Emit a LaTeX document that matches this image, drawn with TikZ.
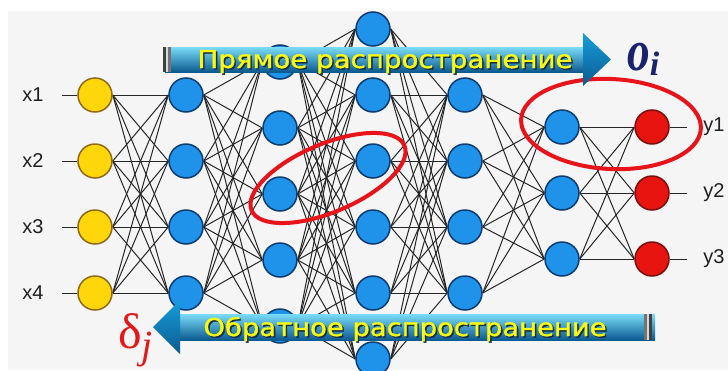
\documentclass[tikz,border=0pt]{standalone}
\usepackage{fontspec}
\setmainfont{Liberation Serif}
\newfontfamily\arrowfont[FakeBold=1.3]{DejaVu Sans}
\newfontfamily\labfont{Liberation Sans}
\usetikzlibrary{shapes.geometric}
\definecolor{bgpanel}{HTML}{F5F5F5}
\definecolor{nblue}{HTML}{1F92EA}
\definecolor{nblueD}{HTML}{0E3C70}
\definecolor{nyel}{HTML}{FFD60A}
\definecolor{nyelD}{HTML}{8C6A18}
\definecolor{nred}{HTML}{E8140F}
\definecolor{nredD}{HTML}{7A1010}
\definecolor{ringred}{HTML}{E8141C}
\definecolor{aTop}{HTML}{7ADCF8}
\definecolor{aMid}{HTML}{169EDB}
\definecolor{aBot}{HTML}{0B5A90}
\definecolor{txtyel}{HTML}{F8F812}
\definecolor{txtshadow}{HTML}{15304A}
\definecolor{navy}{HTML}{1A236E}
\definecolor{dred}{HTML}{E51818}
\pgfdeclarelayer{bglayer}
\pgfdeclarelayer{edgelayer}
\pgfsetlayers{bglayer,edgelayer,main}
\begin{document}
\begin{tikzpicture}[x=1pt,y=-1pt,
  neuron/.style={circle, minimum size=34pt, inner sep=0pt, line width=1.5pt},
  bluen/.style={neuron, fill=nblue, draw=nblueD},
  yeln/.style={neuron, fill=nyel, draw=nyelD},
  redn/.style={neuron, fill=nred, draw=nredD},
  wire/.style={draw=black!85, line width=1pt},
  ring/.style={ellipse, draw=ringred, line width=4pt, inner sep=0pt},
  lab/.style={font=\labfont\fontsize{20}{20}\selectfont, text=black!88, inner sep=0pt},
  arrowtext/.style={anchor=base, inner sep=0pt, text=txtyel},
  shadowtext/.style={anchor=base, inner sep=0pt, text=txtshadow}
]
\useasboundingbox (0,0) rectangle (728,370);
\begin{pgfonlayer}{bglayer}
  \fill[white] (0,0) rectangle (728,370);
  \fill[bgpanel] (8,11) rectangle (728,370);
\end{pgfonlayer}

% input layer
\foreach \k/\yy in {1/95,2/161,3/227,4/293}{
  \node[yeln] (i\k) at (95,\yy) {};
  \node[bluen] (a\k) at (186,\yy) {};
  \node[bluen] (d\k) at (465,\yy) {};
  \coordinate (xin\k) at (62,\yy);
  \node[lab] (lx\k) at (33,\yy) {x\k};
}
\foreach \k/\yy in {1/62,2/128,3/194,4/260,5/326}{
  \node[bluen] (b\k) at (280,\yy) {};
}
\foreach \k/\yy in {1/29,2/95,3/161,4/227,5/293,6/359}{
  \node[bluen] (c\k) at (373,\yy) {};
}
\foreach \k/\yy in {1/127,2/193,3/259}{
  \node[bluen] (e\k) at (562,\yy) {};
  \node[redn] (o\k) at (652,\yy) {};
  \coordinate (yout\k) at (687,\yy);
  \node[lab] (ly\k) at (714,\yy) {y\k};
}

\begin{pgfonlayer}{edgelayer}
  \foreach \k in {1,...,4}{
    \draw[wire] (xin\k) -- (i\k.west);
    \foreach \m in {1,...,4}{ \draw[wire] (i\k.east) -- (a\m.west); }
    \foreach \m in {1,...,5}{ \draw[wire] (a\k.east) -- (b\m.west); }
    \foreach \m in {1,...,3}{ \draw[wire] (d\k.east) -- (e\m.west); }
  }
  \foreach \k in {1,...,5}{
    \foreach \m in {1,...,6}{ \draw[wire] (b\k.east) -- (c\m.west); }
  }
  \foreach \k in {1,...,6}{
    \foreach \m in {1,...,4}{ \draw[wire] (c\k.east) -- (d\m.west); }
  }
  \foreach \k in {1,...,3}{
    \draw[wire] (o\k.east) -- (yout\k);
    \foreach \m in {1,...,3}{ \draw[wire] (e\k.east) -- (o\m.west); }
  }
\end{pgfonlayer}

% red rings
\node[ring, minimum width=166pt, minimum height=68pt, rotate=23] (ringA) at (328,178) {};
\node[ring, minimum width=180pt, minimum height=90pt, rotate=-3] (ringB) at (611,124) {};

% forward arrow
\shade[top color=aTop, middle color=aMid, bottom color=aBot] (165,47) rectangle (585,72);
\shade[top color=aMid, bottom color=aBot] (583,33) -- (611,59.5) -- (583,86) -- cycle;
\fill[black!75] (163,47) rectangle (166,72);
\fill[white!85!black] (166,47) rectangle (168,72);
\fill[black!55] (168,47) rectangle (171,72);
\node[shadowtext] (fwdS) at (386.5,69.5) {\resizebox{375pt}{18pt}{\arrowfont Прямое распространение}};
\node[arrowtext] (fwd) at (385,68) {\resizebox{375pt}{18pt}{\arrowfont Прямое распространение}};

% backward arrow
\shade[top color=aTop, middle color=aMid, bottom color=aBot] (178,314) rectangle (655,340);
\shade[top color=aMid, bottom color=aBot] (180,300) -- (153,327) -- (180,354) -- cycle;
\fill[black!55] (644,314) rectangle (647,340);
\fill[white!85!black] (647,314) rectangle (649,340);
\fill[black!75] (649,314) rectangle (652,340);
\node[shadowtext] (bwdS) at (406.5,337.5) {\resizebox{403pt}{19pt}{\arrowfont Обратное распространение}};
\node[arrowtext] (bwd) at (405,336) {\resizebox{403pt}{19pt}{\arrowfont Обратное распространение}};

% symbols
\node[anchor=base west, inner sep=0pt, text=navy] (oi) at (627,70)
  {\scalebox{0.78}[1]{\fontsize{58}{58}\selectfont\bfseries\itshape o}\raisebox{-5pt}{\fontsize{34}{34}\selectfont\bfseries\itshape i}};
\node[anchor=base west, inner sep=0pt, text=dred] (dj) at (118,348)
  {{\fontsize{50}{50}\selectfont δ}\raisebox{-10pt}{\fontsize{40}{40}\selectfont\itshape j}};
\end{tikzpicture}
\end{document}
